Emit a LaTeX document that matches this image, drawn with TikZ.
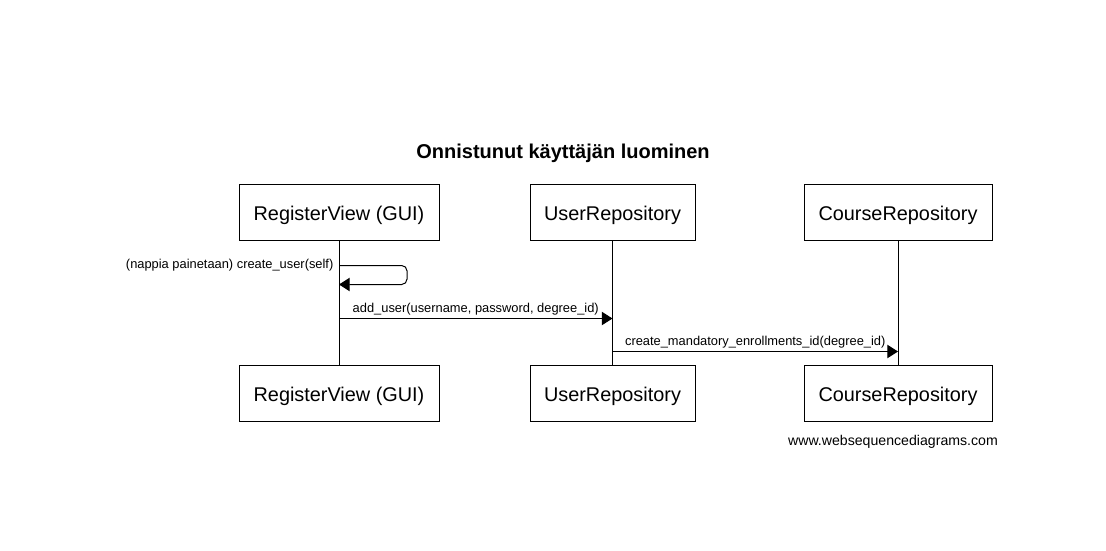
\documentclass[tikz,border=0pt]{standalone}
\usepackage{fontspec}
\setmainfont{Liberation Sans}
\usetikzlibrary{arrows.meta, positioning, calc}

\begin{document}
\begin{tikzpicture}[
  x=0.75pt, y=-0.75pt,
  every node/.style={font=\fontsize{9}{11}\selectfont},
  actor/.style={rectangle, draw=black, line width=0.75pt, fill=white,
                font=\fontsize{14.9}{17}\selectfont, minimum height=42pt, inner sep=0pt,
                text height=13pt, text depth=0pt},
  lifeline/.style={draw, line width=0.75pt},
  msg/.style={draw, line width=0.75pt, -{Triangle[length=8pt, width=10pt]}},
  msglabel/.style={font=\fontsize{9.65}{11}\selectfont, inner sep=1pt},
]
  \useasboundingbox (0,0) rectangle (1106,550);

  % title
  \node[font=\fontsize{15}{18}\selectfont\bfseries] (title) at (563,153) {Onnistunut käyttäjän luominen};

  % participants, top row
  \node[actor, minimum width=150pt] (regtop) at (339,212) {RegisterView (GUI)};
  \node[actor, minimum width=123.75pt] (usertop) at (612.5,212) {UserRepository};
  \node[actor, minimum width=141pt] (coursetop) at (898,212) {CourseRepository};

  % participants, bottom row
  \node[actor, minimum width=150pt] (regbot) at (339,393) {RegisterView (GUI)};
  \node[actor, minimum width=123.75pt] (userbot) at (612.5,393) {UserRepository};
  \node[actor, minimum width=141pt] (coursebot) at (898,393) {CourseRepository};

  % lifelines
  \draw[lifeline] (regtop) -- (regbot);
  \draw[lifeline] (usertop) -- (userbot);
  \draw[lifeline] (coursetop) -- (coursebot);

  % messages
  \coordinate (self-a) at ($(regtop.south)+(0,25)$);
  \coordinate (self-b) at ($(regtop.south)+(0,44)$);
  \draw[msg, rounded corners=4pt] (self-a) -- ++(68,0) |- (self-b);
  \node[msglabel, anchor=east] (selflbl) at ($(self-a)+(-4,0)$) {(nappia painetaan) create\_user(self)};

  \coordinate (add-a) at ($(regtop.south)+(0,78)$);
  \coordinate (add-b) at ($(usertop.south)+(0,78)$);
  \draw[msg] (add-a) -- node[msglabel, above=1pt] (addlbl) {add\_user(username, password, degree\_id)} (add-b);

  \coordinate (enr-a) at ($(usertop.south)+(0,111)$);
  \coordinate (enr-b) at ($(coursetop.south)+(0,111)$);
  \draw[msg] (enr-a) -- node[msglabel, above=1pt] (enrlbl) {create\_mandatory\_enrollments\_id(degree\_id)} (enr-b);

  % watermark
  \node[font=\fontsize{10.6}{12}\selectfont] (wsd) at (893,441.5) {www.websequencediagrams.com};
\end{tikzpicture}
\end{document}
